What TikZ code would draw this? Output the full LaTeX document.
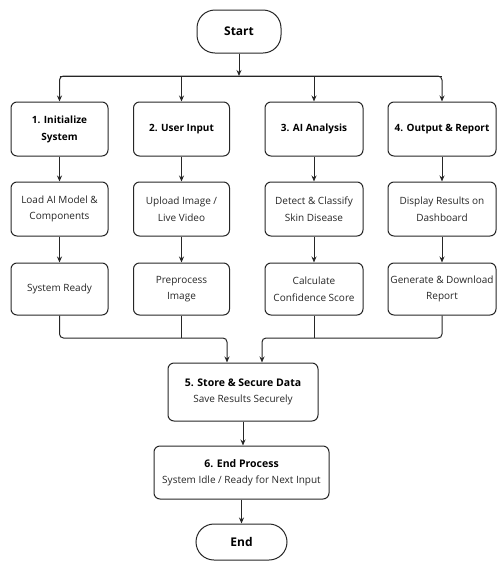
\documentclass[tikz,border=0pt]{standalone}
\usepackage{fontspec}
\setmainfont{Open Sans}
\usetikzlibrary{arrows.meta}
\usepackage{xcolor}

\definecolor{ink}{HTML}{262626}
\tikzset{
	box/.style={draw=ink,line width=1pt,rounded corners=6pt,align=center,
		text=ink,inner sep=2pt,font=\fontsize{10}{16.5}\selectfont},
	head/.style={box,font=\fontsize{10}{17}\selectfont\bfseries,text=black},
	term/.style={draw=ink,line width=1pt,rounded corners=18pt,
		font=\fontsize{12}{14}\selectfont\bfseries},
	link/.style={draw=ink,line width=1pt,rounded corners=4pt}
}

\begin{document}
\begin{tikzpicture}[>={Stealth[length=6pt,width=5pt]}, x=1pt, y=-1pt]
	\useasboundingbox (0,0) rectangle (497,563);
	\node[term,minimum width=84pt,minimum height=43pt] (start) at (239,31.5) {Start};
	\coordinate (bus) at (0,76);
	\coordinate (inL) at (227,338);
	\coordinate (inR) at (262,338);
	\draw[link,->] (start) -- (start |- bus);
	\foreach \n/\x/\w/\a/\b/\c in {
			1/59.5/97/{1. Initialize\\System}/{Load AI Model \&\\Components}/{System Ready},
			2/181.5/96/{2. User Input}/{Upload Image /\\Live Video}/{Preprocess\\Image},
			3/314/98/{3. AI Analysis}/{Detect \& Classify\\Skin Disease}/{Calculate\\Confidence Score},
			4/442/108/{4. Output \& Report}/{Display Results on\\Dashboard}/{Generate \& Download\\Report}}
		{
		\node[head,minimum width=\w pt,minimum height=54pt] (t\n) at (\x,129) {\a};
		\node[box,minimum width=\w pt,minimum height=54pt] (m\n) at (\x,209) {\b};
		\node[box,minimum width=\w pt,minimum height=52pt] (r\n) at (\x,289) {\c};
		\draw[link,->] (t\n) -- (m\n);
		\draw[link,->] (m\n) -- (r\n);
	};
	\draw[link] (t1 |- bus) -- (t4 |- bus);
	\draw[link,->] (start |- bus) -| (t1);
	\draw[link,->] (start |- bus) -| (t4);
	\draw[link,->] (t2 |- bus) -- (t2);
	\draw[link,->] (t3 |- bus) -- (t3);
	\node[box,minimum width=150pt,minimum height=58pt] (store) at (243,392)
		{{\fontsize{10.5}{17}\selectfont\bfseries\color{black}5. Store \& Secure Data}\\Save Results Securely};
	\node[box,minimum width=175pt,minimum height=53pt] (halt) at (241.5,472.5)
		{{\fontsize{10.5}{17}\selectfont\bfseries\color{black}6. End Process}\\System Idle / Ready for Next Input};
	\node[term,minimum width=91pt,minimum height=36pt] (end) at (241.5,542) {End};
	% merge into storage
	\draw[link,->] (r1) |- (inL) -- (inL |- store.north);
	\draw[link] (r2) -- (r2 |- inL);
	\draw[link,->] (r4) |- (inR) -- (inR |- store.north);
	\draw[link] (r3) -- (r3 |- inR);
	\draw[link,->] (store) -- (store |- halt.north);
	\draw[link,->] (halt) -- (halt |- end.north);
\end{tikzpicture}
\end{document}
